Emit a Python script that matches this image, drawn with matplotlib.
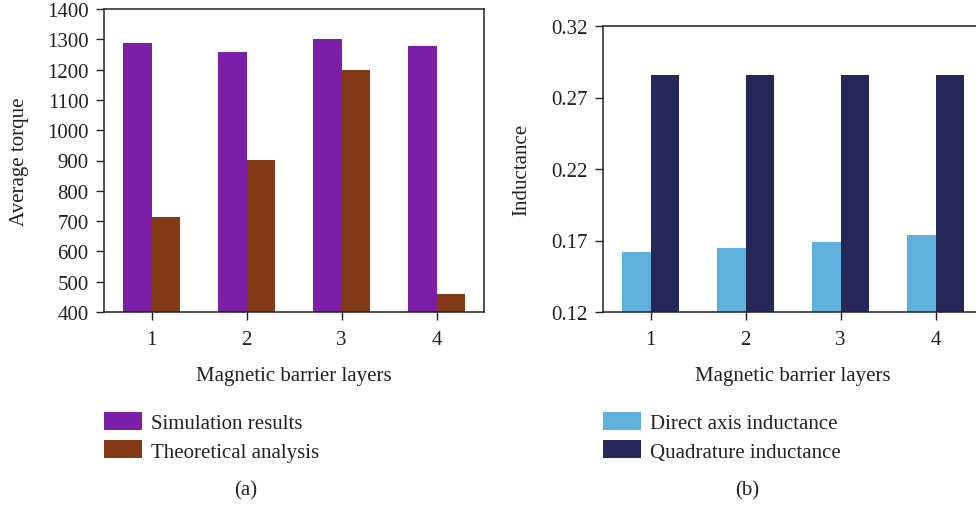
import numpy as np
import matplotlib.pyplot as plt

plt.rcParams['font.family'] = ['Liberation Serif', 'DejaVu Serif']

layers = ['1', '2', '3', '4']
torque_sim = [1288, 1258, 1302, 1277]
torque_theory = [713, 902, 1200, 460]
l_direct = [0.162, 0.165, 0.169, 0.174]
l_quad = [0.286, 0.286, 0.286, 0.286]

W, H = 976, 506
fig = plt.figure(figsize=(W / 100, H / 100), dpi=100)

fs = 15
w = 0.3
x = np.arange(1, len(layers) + 1)

ax1 = fig.add_axes([104 / W, 1 - 313 / H, 380 / W, 303 / H])
ax2 = fig.add_axes([603 / W, 1 - 313 / H, 380 / W, 286 / H])

b1 = ax1.bar(x, torque_sim, -w, align='edge', color='#7B1FA8')
b2 = ax1.bar(x, torque_theory, w, align='edge', color='#843A17')
ax1.set_ylim(400, 1400)
ax1.set_yticks(range(400, 1401, 100))

b3 = ax2.bar(x, l_direct, -w, align='edge', color='#5FB1DB')
b4 = ax2.bar(x, l_quad, w, align='edge', color='#232858')
ax2.set_ylim(0.12, 0.32)
ax2.set_yticks([0.12, 0.17, 0.22, 0.27, 0.32])
ax2.set_yticklabels(['0.12', '0.17', '0.22', '0.27', '0.32'])

for ax in (ax1, ax2):
    ax.set_xlim(0.5, 4.5)
    ax.set_xticks(x)
    ax.set_xticklabels(layers)
    ax.tick_params(axis='both', direction='out', length=6, width=1,
                   labelsize=fs, color='#222222', labelcolor='#222222')
    ax.tick_params(axis='y', pad=5)
    ax.tick_params(axis='x', pad=7)
    for s in ax.spines.values():
        s.set_linewidth(1.1)
        s.set_color('#222222')

fig.text(20 / W, 1 - 162 / H, 'Average torque', rotation=90, ha='center',
         va='center', fontsize=fs, color='#222222')
fig.text(522 / W, 1 - 170 / H, 'Inductance', rotation=90, ha='center',
         va='center', fontsize=fs, color='#222222')
fig.text(294 / W, 1 - 376 / H, 'Magnetic barrier layers', ha='center',
         va='center', fontsize=fs, color='#222222')
fig.text(793 / W, 1 - 376 / H, 'Magnetic barrier layers', ha='center',
         va='center', fontsize=fs, color='#222222')

leg_kw = dict(loc='upper left', frameon=False, fontsize=fs, borderpad=0,
              borderaxespad=0, handlelength=1.8, handleheight=0.95,
              handletextpad=0.45, labelspacing=0.35)
leg1 = fig.legend([b1, b2], ['Simulation results', 'Theoretical analysis'],
                  bbox_to_anchor=(104 / W, 1 - 413 / H), **leg_kw)
leg2 = fig.legend([b3, b4], ['Direct axis inductance', 'Quadrature inductance'],
                  bbox_to_anchor=(603 / W, 1 - 413 / H), **leg_kw)
for leg in (leg1, leg2):
    for t in leg.get_texts():
        t.set_color('#222222')

fig.text(246 / W, 1 - 491 / H, '(a)', ha='center', va='center', fontsize=fs,
         color='#222222')
fig.text(747 / W, 1 - 491 / H, '(b)', ha='center', va='center', fontsize=fs,
         color='#222222')

fig.savefig('out.png', dpi=100)
